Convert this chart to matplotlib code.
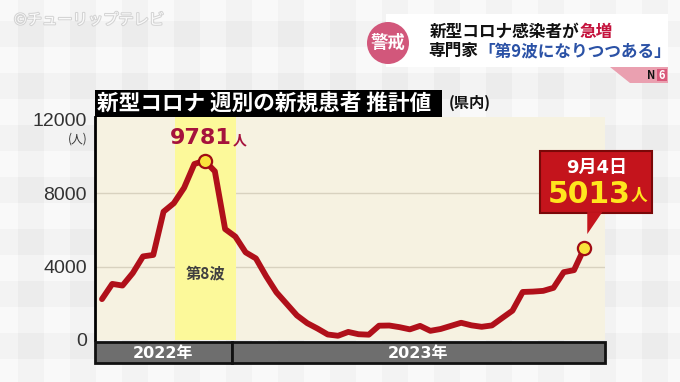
import numpy as np
import matplotlib
matplotlib.use('Agg')
import matplotlib.pyplot as plt
from matplotlib.patches import Rectangle, Circle, Polygon
import matplotlib.transforms as mtransforms
import matplotlib.patheffects as pe

plt.rcParams['font.family'] = ['Noto Sans CJK JP', 'DejaVu Sans']

# ---------------- data ----------------
weeks = np.arange(48)          # weekly estimates, Oct 2022 -> 2023-09-04
cases = [2230, 3060, 2970, 3650, 4560, 4640, 7000, 7460, 8300, 9600,
         9781, 9200, 6050, 5640, 4780, 4450, 3475, 2600, 1970, 1340,
         920, 625, 300, 230, 440, 315, 290, 780, 790, 700,
         580, 770, 500, 600, 770, 940, 800, 720, 795, 1200,
         1600, 2620, 2640, 2680, 2845, 3700, 3810, 5013]
year_labels = ['2022年', '2023年']
year_boundary = 12.65          # week position where 2023 starts
wave8_span = (7.1, 13.05)      # highlighted 8th wave (week positions)
wave8_label = '第8波'
yticks = [0, 4000, 8000, 12000]
ytick_labels = ['0', '4000', '8000', '12000']
peak_idx = 10
last_idx = 47
last_date = '9月4日'
title = '新型コロナ 週別の新規患者 推計値'
subtitle = '(県内)'
unit = '(人)'

W, H = 680, 382
fig = plt.figure(figsize=(W / 100, H / 100), dpi=100)
fig.patch.set_facecolor('white')
renderer = fig.canvas.get_renderer()

# ---------------- background (gingham) ----------------
bg = fig.add_axes([0, 0, 1, 1], zorder=0)
sq = 26
nx, ny = W // sq + 2, H // sq + 2
img = np.zeros((ny, nx))
for r in range(ny):
    for c in range(nx):
        img[r, c] = 0.975 - 0.025 * (r % 2) - 0.025 * (c % 2)
bg.imshow(img, cmap='gray', vmin=0, vmax=1, extent=(-8, nx * sq - 8, ny * sq - 5, -5),
          interpolation='nearest', aspect='auto')
bg.set_xlim(0, W)
bg.set_ylim(H, 0)
bg.axis('off')

# ---------------- main axes ----------------
L, R, T, B = 95, 605, 117, 340
ax = fig.add_axes([L / W, 1 - B / H, (R - L) / W, (B - T) / H], zorder=2)
ax.set_facecolor('#f6f2e1')
ax.set_ylim(0, 12000 * (B - T) / (B - 120))
ax.set_xlim(-0.68, 49.02)
for s in ['top', 'right', 'bottom']:
    ax.spines[s].set_visible(False)
ax.spines['left'].set_linewidth(2)
ax.spines['left'].set_color('black')
ax.set_xticks([])
ax.set_yticks(yticks)
ax.set_yticklabels(ytick_labels, fontsize=14, color='#333333',
                   family=['Liberation Sans', 'DejaVu Sans'])
ax.tick_params(axis='y', length=0, pad=6)
for v in yticks[1:3]:
    ax.axhline(v, color='#d8d2bf', lw=1, zorder=0.5)
ax.axvspan(*wave8_span, color='#fcf99a', zorder=0.8, lw=0)
ax.text(np.mean(wave8_span), 3650, wave8_label, ha='center', va='center',
        fontsize=11, fontweight='bold', color='#404040', zorder=2)

ax.plot(weeks, cases, color='#b0101a', lw=4.2, solid_joinstyle='round',
        solid_capstyle='round', zorder=3)
ax.plot([weeks[peak_idx], weeks[last_idx]], [cases[peak_idx], cases[last_idx]], 'o',
        ms=9.5, mfc='#f9e33c', mec='#a00c14', mew=1.6, zorder=4)

# peak label
t1 = mtransforms.offset_copy(ax.transData, fig=fig, x=27, y=23, units='dots')
ax.text(weeks[peak_idx], cases[peak_idx], str(cases[peak_idx]), transform=t1,
        ha='right', va='center', fontsize=16, fontweight='bold', color='#a5123c',
        family=['DejaVu Sans'])
t2 = mtransforms.offset_copy(ax.transData, fig=fig, x=28, y=20, units='dots')
ax.text(weeks[peak_idx], cases[peak_idx], '人', transform=t2,
        ha='left', va='center', fontsize=10, fontweight='bold', color='#a5123c')

# ---------------- year bar ----------------
yb = fig.add_axes([L / W, 1 - 363 / H, (R - L) / W, 21 / H], zorder=2)
x0, x1 = ax.get_xlim()
yb.set_xlim(x0, x1)
yb.set_ylim(0, 1)
yb.axis('off')
segs = [(x0, year_boundary), (year_boundary, x1)]
for (a, b), lab in zip(segs, year_labels):
    yb.add_patch(Rectangle((a, 0), b - a, 1, fc='#6e6e6e', ec='#111111', lw=2, clip_on=False))
    yb.text((a + b) / 2, 0.45, lab, ha='center', va='center', color='white',
            fontsize=11.5, fontweight='bold', family=['DejaVu Sans', 'Noto Sans CJK JP'])

# ---------------- overlay ----------------
ov = fig.add_axes([0, 0, 1, 1], zorder=5)
ov.set_xlim(0, W)
ov.set_ylim(H, 0)
ov.axis('off')
ov.patch.set_alpha(0)

# title bar
ov.add_patch(Rectangle((95, 90), 347, 27, fc='black', ec='none'))
ov.text(97, 104, title, ha='left', va='center', color='white', fontsize=15.6,
        fontweight='bold')
ov.text(449, 103, subtitle, ha='left', va='center', color='#111111', fontsize=11,
        fontweight='bold')
ov.text(88, 139, unit, ha='right', va='center', color='#333333', fontsize=8.5)

# callout for last point
fig.canvas.draw()
dx, dy = ax.transData.transform((weeks[last_idx], cases[last_idx]))
px, py = dx, H - dy
ov.add_patch(Rectangle((px - 44, py - 97), 112, 62, fc='#c4141c', ec='#7a0808', lw=1.5))
ov.add_patch(Polygon([(px + 3, py - 36), (px + 3, py - 14), (px + 18, py - 36)],
                     closed=True, fc='#c4141c', ec='none'))
ov.text(px + 12, py - 80, last_date, ha='center', va='center', color='white',
        fontsize=13, fontweight='bold', family=['DejaVu Sans', 'Noto Sans CJK JP'])
ov.text(px + 46, py - 54, str(cases[last_idx]), ha='right', va='center', color='#ffe61e',
        fontsize=21.5, fontweight='bold', family=['DejaVu Sans'])
ov.text(px + 46, py - 52, '人', ha='left', va='center', color='#ffe61e',
        fontsize=12, fontweight='bold')

# watermark
ov.text(14, 20, '©チューリップテレビ', ha='left', va='center', color='white', fontsize=11,
        alpha=0.9, path_effects=[pe.withStroke(linewidth=1.5, foreground='#d0d0d0')])

# top-right banner
ov.add_patch(Rectangle((386, 14), 282, 53, fc='white', ec='none'))
ov.add_patch(Polygon([(610, 67), (668, 67), (668, 83), (630, 83)], closed=True,
                     fc='#eaa0b0', ec='none'))
ov.add_patch(Rectangle((657, 69), 10, 12, fc='#d9587a', ec='none'))
ov.text(651, 75.5, 'N', ha='center', va='center', fontsize=8, fontweight='bold', color='#111111')
ov.text(662, 75.5, '6', ha='center', va='center', fontsize=8, fontweight='bold', color='white')
ov.add_patch(Circle((388, 43), 21, fc='#d2577b', ec='none'))
ov.text(388, 43, '警戒', ha='center', va='center', fontsize=12.5, fontweight='bold', color='white')


def runs(x, y, parts, **kw):
    for s, col in parts:
        t = ov.text(x, y, s, ha='left', va='center', color=col, **kw)
        x += t.get_window_extent(renderer).width


runs(430, 32, [('新型コロナ感染者が', '#111111'), ('急増', '#c4123c')],
     fontsize=12, fontweight='bold')
runs(428, 51, [('専門家', '#111111'), ('「第9波になりつつある」', '#2b52a6')],
     fontsize=12, fontweight='bold')

fig.savefig('out.png', dpi=100)
